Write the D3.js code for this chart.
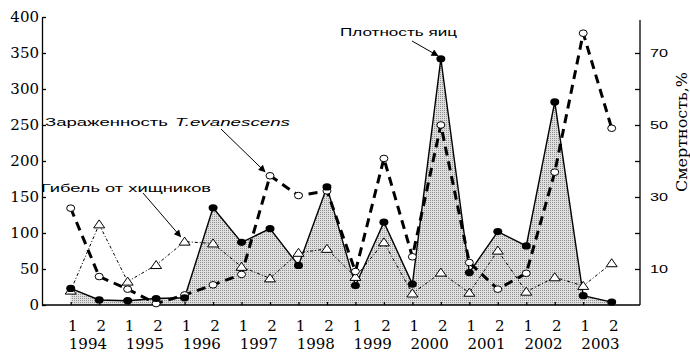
<!DOCTYPE html>
<html><head><meta charset="utf-8">
<script src="https://cdn.jsdelivr.net/npm/d3@7"></script>
<style>body{margin:0;background:#fff} svg{display:block}</style>
</head><body>
<svg id="c" width="690" height="353"></svg>
<script>
// ---- data ----
const years = ["1994","1995","1996","1997","1998","1999","2000","2001","2002","2003"];
const halves = ["1","2"];
const eggDensity = [23, 7, 6, 9, 10, 135, 87, 106, 55, 164, 27, 115, 29, 342, 45, 102, 82, 282, 13, 4];
const infection  = [26.9, 7.9, 4.4, 0.4, 2.8, 5.6, 8.5, 35.9, 30.4, 31.7, 9.3, 40.7, 13.4, 50, 11.8, 4.4, 8.8, 36.9, 75.5, 49.1];
const predation  = [4.0, 22.4, 6.5, 11.1, 17.6, 17.1, 10.6, 7.4, 14.5, 15.6, 7.8, 17.4, 3.2, 9.0, 3.4, 15.1, 3.7, 7.7, 5.3, 11.6];
const leftTicks = [0, 50, 100, 150, 200, 250, 300, 350, 400];
const rightTicks = [10, 20, 30, 40, 50, 60, 70];
const rightLabeled = [10, 30, 50, 70];
const rightTitle = "Смертность,%";
const labelEggs = "Плотность яиц";
const labelInf1 = "Зараженность";
const labelInf2 = "T.evanescens";
const labelPred = "Гибель от хищников";

const periods = years.flatMap(y => halves.map(h => y + "-" + h));

const svg = d3.select("#c");
const serif = "DejaVu Serif";
const sans = "Liberation Sans";

const x = d3.scalePoint().domain(periods).range([70.7, 611.7]);
const yL = d3.scaleLinear().domain([0, 400]).range([305, 17]);
const yR = d3.scaleLinear().domain([0, 80]).range([305, 17]);

const defs = svg.append("defs");
const pat = defs.append("pattern").attr("id", "dots").attr("patternUnits", "userSpaceOnUse")
  .attr("width", 2).attr("height", 2);
pat.append("rect").attr("width", 2).attr("height", 2).attr("fill", "#e0e0e0");
pat.append("rect").attr("width", 1).attr("height", 1).attr("fill", "#8e8e8e");
defs.append("marker").attr("id", "arr").attr("viewBox", "0 0 10 10").attr("refX", 9).attr("refY", 5)
  .attr("markerWidth", 9).attr("markerHeight", 7).attr("markerUnits", "userSpaceOnUse")
  .attr("orient", "auto")
  .append("path").attr("d", "M0,0 L10,5 L0,10 Z").attr("fill", "#000");

const eggData = periods.map((p, i) => ({p, v: eggDensity[i]}));
const infData = periods.map((p, i) => ({p, v: infection[i]}));
const predData = periods.map((p, i) => ({p, v: predation[i]}));

// area
svg.append("path").datum(eggData)
  .attr("d", d3.area().x(d => x(d.p)).y0(yL(0)).y1(d => yL(d.v)))
  .attr("fill", "url(#dots)");

// axes
const gL = svg.append("g").attr("transform", "translate(42,0)")
  .call(d3.axisLeft(yL).tickValues(leftTicks).tickSizeInner(-4).tickSizeOuter(0).tickPadding(3));
gL.selectAll("text").attr("font-family", serif).attr("font-size", 15).attr("fill", "#000");
gL.selectAll("line,path").attr("stroke", "#000").attr("stroke-width", 1.3);

const gR = svg.append("g").attr("transform", "translate(640,0)")
  .call(d3.axisRight(yR).tickValues(rightTicks).tickSizeInner(-5).tickSizeOuter(0).tickPadding(10)
    .tickFormat(d => rightLabeled.includes(d) ? d : ""));
gR.select(".domain").attr("d", "M0," + yR(0) + "V20");
gR.selectAll("text").attr("font-family", sans).attr("font-size", 11).attr("fill", "#000")
  .attr("textLength", 18).attr("lengthAdjust", "spacingAndGlyphs");
gR.selectAll("line,path").attr("stroke", "#000").attr("stroke-width", 1.3);

const gX = svg.append("g").attr("transform", "translate(0," + yL(0) + ")")
  .call(d3.axisBottom(x).tickSizeInner(-3).tickSizeOuter(0).tickFormat(""));
gX.select(".domain").attr("d", "M42,0H640");
gX.selectAll("line,path").attr("stroke", "#000").attr("stroke-width", 1.3);

// x labels
svg.append("g").selectAll("text").data(periods).join("text")
  .attr("x", d => x(d) + 2).attr("y", 331).attr("text-anchor", "middle")
  .attr("font-family", serif).attr("font-size", 15)
  .text(d => d.split("-")[1]);
svg.append("g").selectAll("text").data(years).join("text")
  .attr("x", d => (x(d + "-1") + x(d + "-2")) / 2 + 3).attr("y", 348.5).attr("text-anchor", "middle")
  .attr("font-family", serif).attr("font-size", 15)
  .text(d => d);

// right title
svg.append("text").attr("transform", "translate(687,132) rotate(-90)")
  .attr("text-anchor", "middle").attr("font-family", serif).attr("font-size", 15)
  .attr("textLength", 120).attr("lengthAdjust", "spacingAndGlyphs")
  .text(rightTitle);

// lines
svg.append("path").datum(predData)
  .attr("d", d3.line().x(d => x(d.p)).y(d => yR(d.v)))
  .attr("fill", "none").attr("stroke", "#000").attr("stroke-width", 1)
  .attr("stroke-dasharray", "3,2,1,2");
svg.append("path").datum(infData)
  .attr("d", d3.line().x(d => x(d.p)).y(d => yR(d.v)))
  .attr("fill", "none").attr("stroke", "#000").attr("stroke-width", 3)
  .attr("stroke-dasharray", "9,6");
svg.append("path").datum(eggData)
  .attr("d", d3.line().x(d => x(d.p)).y(d => yL(d.v)))
  .attr("fill", "none").attr("stroke", "#000").attr("stroke-width", 1.4);

// markers
svg.append("g").selectAll("path").data(predData).join("path")
  .attr("transform", d => "translate(" + x(d.p) + "," + yR(d.v) + ")")
  .attr("d", "M0,-4.5L5.5,3.5L-5.5,3.5Z")
  .attr("fill", "#fff").attr("stroke", "#000").attr("stroke-width", 1);
svg.append("g").selectAll("ellipse").data(infData).join("ellipse")
  .attr("cx", d => x(d.p)).attr("cy", d => yR(d.v)).attr("rx", 4).attr("ry", 3.3)
  .attr("fill", "#fff").attr("stroke", "#000").attr("stroke-width", 1);
svg.append("g").selectAll("ellipse").data(eggData).join("ellipse")
  .attr("cx", d => x(d.p)).attr("cy", d => yL(d.v)).attr("rx", 4.5).attr("ry", 3.6)
  .attr("fill", "#000");

// annotations
function note(txt, tx, ty, len, italic) {
  svg.append("text").attr("x", tx).attr("y", ty).attr("font-family", sans).attr("font-size", 11.5)
    .attr("font-style", italic ? "italic" : "normal")
    .attr("textLength", len).attr("lengthAdjust", "spacingAndGlyphs").text(txt);
}
note(labelEggs, 340, 35.5, 117);
note(labelInf1, 45, 125.5, 123);
note(labelInf2, 175, 125.5, 115, true);
note(labelPred, 41, 191.5, 170);

function arrow(x1, y1, x2, y2) {
  svg.append("line").attr("x1", x1).attr("y1", y1).attr("x2", x2).attr("y2", y2)
    .attr("stroke", "#000").attr("stroke-width", 1).attr("marker-end", "url(#arr)");
}
arrow(412, 41, x("2000-2") - 3, yL(342) - 3);
arrow(221, 129, x("1997-2") - 5, yR(35.9) - 4);
arrow(143, 193, x("1996-1") - 4, yR(17.6) - 5);
</script>
</body></html>
